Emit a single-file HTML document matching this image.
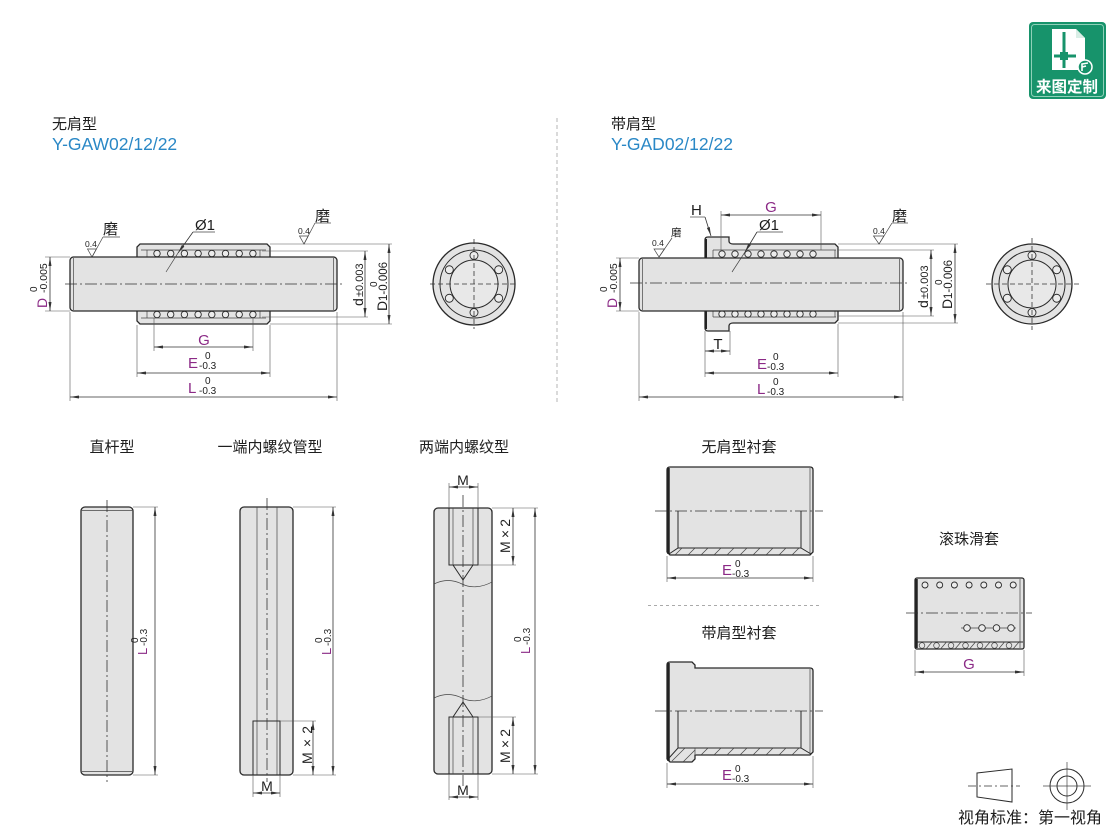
<!DOCTYPE html>
<html><head><meta charset="utf-8">
<style>
html,body{margin:0;padding:0;background:#fff}
svg{display:block}
text{font-family:"Liberation Sans","Noto Sans CJK SC",sans-serif;fill:#1e1e1e}
.p{fill:#e3e3e3;stroke:#2a2a2a;stroke-width:1.3}
.l{stroke:#2a2a2a;stroke-width:1;fill:none}
.t{stroke:#444;stroke-width:.7;fill:none}
.c{stroke:#333;stroke-width:.8;stroke-dasharray:12 3 2 3;fill:none}
.cd{stroke:#333;stroke-width:.8;stroke-dasharray:5 3;fill:none}
.d{stroke:#333;stroke-width:.8;marker-start:url(#a);marker-end:url(#a)}
.e{stroke:#555;stroke-width:.6}
.b{fill:#ececec;stroke:#2a2a2a;stroke-width:.9}
.m{fill:#8b2a86}
.k{fill:#333}
</style></head>
<body>
<svg width="1110" height="826" viewBox="0 0 1110 826" xmlns="http://www.w3.org/2000/svg">
<defs>
<marker id="a" viewBox="0 0 9 3" refX="9" refY="1.5" markerWidth="9" markerHeight="3" markerUnits="userSpaceOnUse" orient="auto-start-reverse"><path d="M0,0L9,1.5L0,3z" fill="#333"/></marker>
<marker id="a1" viewBox="0 0 9 3" refX="9" refY="1.5" markerWidth="9" markerHeight="3" markerUnits="userSpaceOnUse" orient="auto"><path d="M0,0L9,1.5L0,3z" fill="#333"/></marker>
</defs>

<!-- Logo -->
<rect x="1029" y="22" width="77" height="77" rx="4" fill="#17936b"/>
<rect x="1031.5" y="24.5" width="72" height="72" rx="3" fill="none" stroke="#8fd0b8" stroke-width="1"/>
<path d="M1052,29 L1076,29 L1085,38 L1085,70 L1052,70 Z" fill="#fff"/>
<path d="M1076,29 L1076,38 L1085,38" fill="#d9eee6"/>
<rect x="1062.5" y="32" width="3" height="36" fill="#17936b"/>
<rect x="1054" y="54.5" width="22" height="3" fill="#17936b"/>
<rect x="1060" y="52" width="8" height="8" fill="#17936b"/>
<circle cx="1085" cy="67" r="7" fill="#17936b" stroke="#fff" stroke-width="1.5"/>
<path d="M1082,71 L1082,64 L1088,63 M1082,67 L1086,66" stroke="#fff" stroke-width="1.6" fill="none"/>
<text x="1067" y="92" font-size="15.5" font-weight="bold" text-anchor="middle" style="fill:#fff">来图定制</text>

<!-- Titles -->
<text x="52" y="129" font-size="15">无肩型</text>
<text x="52" y="150" font-size="17.5" style="fill:#2a88c6">Y-GAW02/12/22</text>
<text x="611" y="129" font-size="15">带肩型</text>
<text x="611" y="150" font-size="17.5" style="fill:#2a88c6">Y-GAD02/12/22</text>
<line x1="557" y1="118" x2="557" y2="405" stroke="#b5b5b5" stroke-width="1" stroke-dasharray="4 3"/>

<!-- ============ TOP LEFT FIGURE ============ -->
<path class="p" d="M140,244 L267,244 L270,247 L270,321 L267,324 L140,324 L137,321 L137,247 Z"/>
<line class="t" x1="141" y1="250" x2="266" y2="250"/>
<line class="t" x1="141" y1="318" x2="266" y2="318"/>
<line class="t" x1="147" y1="250" x2="147" y2="257"/>
<line class="t" x1="260" y1="250" x2="260" y2="257"/>
<line class="t" x1="147" y1="311" x2="147" y2="318"/>
<line class="t" x1="260" y1="311" x2="260" y2="318"/>
<g class="b">
<circle cx="157" cy="253.5" r="3.2"/><circle cx="170.7" cy="253.5" r="3.2"/><circle cx="184.4" cy="253.5" r="3.2"/><circle cx="198.1" cy="253.5" r="3.2"/><circle cx="211.8" cy="253.5" r="3.2"/><circle cx="225.5" cy="253.5" r="3.2"/><circle cx="239.2" cy="253.5" r="3.2"/><circle cx="252.9" cy="253.5" r="3.2"/>
<circle cx="157" cy="314.5" r="3.2"/><circle cx="170.7" cy="314.5" r="3.2"/><circle cx="184.4" cy="314.5" r="3.2"/><circle cx="198.1" cy="314.5" r="3.2"/><circle cx="211.8" cy="314.5" r="3.2"/><circle cx="225.5" cy="314.5" r="3.2"/><circle cx="239.2" cy="314.5" r="3.2"/><circle cx="252.9" cy="314.5" r="3.2"/>
</g>
<rect class="p" x="70" y="257" width="267" height="54" rx="3.5"/>
<line class="t" x1="73.5" y1="258" x2="73.5" y2="310"/>
<line class="t" x1="333.5" y1="258" x2="333.5" y2="310"/>
<line class="c" x1="65" y1="284" x2="343" y2="284"/>

<!-- dims left fig -->
<line class="e" x1="45" y1="257" x2="70" y2="257"/>
<line class="e" x1="45" y1="311" x2="70" y2="311"/>
<line class="d" x1="50" y1="257" x2="50" y2="311"/>
<g transform="translate(47,308) rotate(-90)"><text class="m" font-size="14">D</text><text x="15" font-size="10.5">-0.005</text><text x="16" y="-10" font-size="10">0</text></g>

<line class="e" x1="262" y1="251" x2="368" y2="251"/>
<line class="e" x1="262" y1="317" x2="368" y2="317"/>
<line class="e" x1="270" y1="244" x2="392" y2="244"/>
<line class="e" x1="270" y1="324" x2="392" y2="324"/>
<line class="d" x1="365" y1="251" x2="365" y2="317"/>
<line class="d" x1="389" y1="244" x2="389" y2="324"/>
<g transform="translate(363,306) rotate(-90)"><text font-size="14">d</text><text x="9" font-size="11">±0.003</text></g>
<g transform="translate(387,311) rotate(-90)"><text font-size="14">D</text><text x="10" font-size="11.5">1-0.006</text><text x="24" y="-10" font-size="10">0</text></g>

<line class="e" x1="154" y1="318" x2="154" y2="351"/>
<line class="e" x1="253" y1="318" x2="253" y2="351"/>
<line class="d" x1="154" y1="347" x2="253" y2="347"/>
<text class="m" x="204" y="345" font-size="15" text-anchor="middle">G</text>
<line class="e" x1="137" y1="325" x2="137" y2="377"/>
<line class="e" x1="270" y1="325" x2="270" y2="377"/>
<line class="d" x1="137" y1="373" x2="270" y2="373"/>
<text class="m" x="188" y="368" font-size="15">E</text><text x="205" y="359" font-size="10">0</text><text x="199" y="369" font-size="10">-0.3</text>
<line class="e" x1="70" y1="312" x2="70" y2="401"/>
<line class="e" x1="337" y1="312" x2="337" y2="401"/>
<line class="d" x1="70" y1="397" x2="337" y2="397"/>
<text class="m" x="188" y="393" font-size="15">L</text><text x="205" y="384" font-size="10">0</text><text x="199" y="394" font-size="10">-0.3</text>

<!-- Ø1 leader -->
<text x="195" y="230" font-size="15">Ø1</text>
<line class="t" x1="193" y1="232" x2="215" y2="232"/>
<line x1="193" y1="232" x2="178" y2="253" stroke="#333" stroke-width=".8" marker-end="url(#a1)"/>
<line class="t" x1="178" y1="253" x2="166" y2="272"/>
<!-- 磨 left -->
<text x="103" y="234" font-size="15">磨</text>
<line class="t" x1="103" y1="237" x2="120" y2="237"/>
<line class="t" x1="103" y1="237" x2="92" y2="257"/>
<path class="t" d="M87.5,249 L96.4,249 L92,257 Z"/>
<text x="85" y="247" font-size="8.5">0.4</text>
<!-- 磨 right -->
<text x="315" y="221" font-size="15">磨</text>
<line class="t" x1="315" y1="223" x2="331" y2="223"/>
<line class="t" x1="315" y1="223" x2="304" y2="244"/>
<path class="t" d="M299.5,236 L308.2,236 L304,244 Z"/>
<text x="298" y="234" font-size="8.5">0.4</text>

<!-- end view left -->
<circle cx="474" cy="284" r="41" class="p"/>
<circle cx="474" cy="284" r="34" class="l"/>
<circle cx="474" cy="284" r="24" fill="#e8e8e8" stroke="#2a2a2a" stroke-width="1"/>
<g class="b">
<circle cx="474" cy="255.5" r="4"/><circle cx="498.7" cy="269.75" r="4"/><circle cx="498.7" cy="298.25" r="4"/><circle cx="474" cy="312.5" r="4"/><circle cx="449.3" cy="298.25" r="4"/><circle cx="449.3" cy="269.75" r="4"/>
</g>
<line class="cd" x1="430" y1="284" x2="518" y2="284"/>
<line class="cd" x1="474" y1="239" x2="474" y2="329"/>

<!-- ============ TOP RIGHT FIGURE ============ -->
<path class="p" d="M708,237 L729,237 L729,241 C729,243 731,244 733,244 L835,244 L838,247 L838,320 L835,323 L733,323 C731,323 729,324 729,326 L729,331 L708,331 Q705,331 705,328 L705,240 Q705,237 708,237 Z"/>
<line x1="706" y1="239" x2="706" y2="329" stroke="#222" stroke-width="2"/>
<line class="t" x1="713" y1="250" x2="836" y2="250"/>
<line class="t" x1="713" y1="317" x2="836" y2="317"/>
<line class="t" x1="713" y1="250" x2="713" y2="258"/>
<line class="t" x1="835" y1="250" x2="835" y2="258"/>
<line class="t" x1="713" y1="311" x2="713" y2="317"/>
<line class="t" x1="835" y1="311" x2="835" y2="317"/>
<g class="b">
<circle cx="722" cy="254" r="3.2"/><circle cx="735" cy="254" r="3.2"/><circle cx="748" cy="254" r="3.2"/><circle cx="761" cy="254" r="3.2"/><circle cx="774" cy="254" r="3.2"/><circle cx="787" cy="254" r="3.2"/><circle cx="800" cy="254" r="3.2"/><circle cx="813" cy="254" r="3.2"/>
<circle cx="722" cy="314" r="3.2"/><circle cx="735" cy="314" r="3.2"/><circle cx="748" cy="314" r="3.2"/><circle cx="761" cy="314" r="3.2"/><circle cx="774" cy="314" r="3.2"/><circle cx="787" cy="314" r="3.2"/><circle cx="800" cy="314" r="3.2"/><circle cx="813" cy="314" r="3.2"/>
</g>
<rect class="p" x="639" y="258" width="264" height="53" rx="3.5"/>
<line class="t" x1="642.5" y1="259" x2="642.5" y2="310"/>
<line class="t" x1="899.5" y1="259" x2="899.5" y2="310"/>
<line class="c" x1="630" y1="283" x2="910" y2="283"/>

<line class="e" x1="616" y1="258" x2="639" y2="258"/>
<line class="e" x1="616" y1="311" x2="639" y2="311"/>
<line class="d" x1="620" y1="258" x2="620" y2="311"/>
<g transform="translate(617,308) rotate(-90)"><text class="m" font-size="14">D</text><text x="15" font-size="10.5">-0.005</text><text x="16" y="-10" font-size="10">0</text></g>

<line class="e" x1="838" y1="250" x2="934" y2="250"/>
<line class="e" x1="838" y1="316" x2="934" y2="316"/>
<line class="e" x1="838" y1="244" x2="958" y2="244"/>
<line class="e" x1="838" y1="323" x2="958" y2="323"/>
<line class="d" x1="931" y1="250" x2="931" y2="316"/>
<line class="d" x1="955" y1="244" x2="955" y2="323"/>
<g transform="translate(928,308) rotate(-90)"><text font-size="14">d</text><text x="9" font-size="11">±0.003</text></g>
<g transform="translate(952,309) rotate(-90)"><text font-size="14">D</text><text x="10" font-size="11.5">1-0.006</text><text x="24" y="-10" font-size="10">0</text></g>

<line class="e" x1="721" y1="211" x2="721" y2="250"/>
<line class="e" x1="821" y1="211" x2="821" y2="250"/>
<line class="d" x1="721" y1="215" x2="821" y2="215"/>
<text class="m" x="771" y="212" font-size="15" text-anchor="middle">G</text>

<text x="691" y="215" font-size="15">H</text>
<line class="t" x1="690" y1="217" x2="705" y2="217"/>
<line x1="705" y1="217" x2="711" y2="236" stroke="#333" stroke-width=".8" marker-end="url(#a1)"/>

<text x="759" y="230" font-size="15">Ø1</text>
<line class="t" x1="757" y1="232" x2="783" y2="232"/>
<line x1="757" y1="232" x2="745" y2="252" stroke="#333" stroke-width=".8" marker-end="url(#a1)"/>
<line class="t" x1="745" y1="252" x2="732" y2="272"/>

<text x="671" y="236" font-size="10.5">磨</text>
<line class="t" x1="659" y1="257" x2="672" y2="238"/>
<path class="t" d="M654,249 L664.5,249 L659,257 Z"/>
<text x="652" y="246" font-size="8.5">0.4</text>

<text x="892" y="221" font-size="15">磨</text>
<line class="t" x1="892" y1="223" x2="908" y2="223"/>
<line class="t" x1="892" y1="223" x2="879" y2="244"/>
<path class="t" d="M873.5,236 L883.9,236 L879,244 Z"/>
<text x="873" y="234" font-size="8.5">0.4</text>

<line class="e" x1="705" y1="331" x2="705" y2="377"/>
<line class="e" x1="730" y1="331" x2="730" y2="355"/>
<line class="d" x1="705" y1="351" x2="730" y2="351"/>
<text x="718" y="349" font-size="15" text-anchor="middle">T</text>
<line class="e" x1="838" y1="324" x2="838" y2="377"/>
<line class="d" x1="705" y1="373" x2="838" y2="373"/>
<text class="m" x="757" y="369" font-size="15">E</text><text x="773" y="360" font-size="10">0</text><text x="767" y="370" font-size="10">-0.3</text>
<line class="e" x1="639" y1="312" x2="639" y2="401"/>
<line class="e" x1="903" y1="312" x2="903" y2="401"/>
<line class="d" x1="639" y1="397" x2="903" y2="397"/>
<text class="m" x="757" y="394" font-size="15">L</text><text x="773" y="385" font-size="10">0</text><text x="767" y="395" font-size="10">-0.3</text>

<!-- end view right -->
<circle cx="1032" cy="284" r="40" class="p"/>
<circle cx="1032" cy="284" r="33" class="l"/>
<circle cx="1032" cy="284" r="24" fill="#e8e8e8" stroke="#2a2a2a" stroke-width="1"/>
<g class="b">
<circle cx="1032" cy="255.5" r="4"/><circle cx="1056.7" cy="269.75" r="4"/><circle cx="1056.7" cy="298.25" r="4"/><circle cx="1032" cy="312.5" r="4"/><circle cx="1007.3" cy="298.25" r="4"/><circle cx="1007.3" cy="269.75" r="4"/>
</g>
<line class="cd" x1="986" y1="284" x2="1080" y2="284"/>
<line class="cd" x1="1032" y1="238" x2="1032" y2="330"/>

<!-- ============ BOTTOM TITLES ============ -->
<text x="112" y="452" font-size="15" text-anchor="middle">直杆型</text>
<text x="270" y="452" font-size="15" text-anchor="middle">一端内螺纹管型</text>
<text x="464" y="452" font-size="15" text-anchor="middle">两端内螺纹型</text>
<text x="739" y="452" font-size="15" text-anchor="middle">无肩型衬套</text>
<text x="739" y="638" font-size="15" text-anchor="middle">带肩型衬套</text>
<text x="969" y="544" font-size="15" text-anchor="middle">滚珠滑套</text>

<!-- straight pin -->
<rect class="p" x="81" y="507" width="52" height="268" rx="4"/>
<line class="t" x1="82" y1="510.5" x2="132" y2="510.5"/>
<line class="t" x1="82" y1="771.5" x2="132" y2="771.5"/>
<line class="c" x1="107" y1="500" x2="107" y2="782"/>
<line class="e" x1="133" y1="507" x2="158" y2="507"/>
<line class="e" x1="133" y1="775" x2="158" y2="775"/>
<line class="d" x1="155" y1="507" x2="155" y2="775"/>
<g transform="translate(147,655) rotate(-90)"><text class="m" font-size="13">L</text><text x="9" font-size="10">-0.3</text><text x="12" y="-9" font-size="10">0</text></g>

<!-- one-end thread pin -->
<rect class="p" x="240" y="507" width="53" height="268" rx="4"/>
<line class="t" x1="257" y1="507" x2="257" y2="775"/>
<line class="t" x1="277" y1="507" x2="277" y2="775"/>
<rect x="253" y="721" width="27" height="54" fill="none" stroke="#2a2a2a" stroke-width="1"/>
<line class="c" x1="267" y1="498" x2="267" y2="782"/>
<line class="e" x1="293" y1="507" x2="336" y2="507"/>
<line class="e" x1="293" y1="775" x2="336" y2="775"/>
<line class="d" x1="333" y1="507" x2="333" y2="775"/>
<g transform="translate(331,655) rotate(-90)"><text class="m" font-size="13">L</text><text x="9" font-size="10">-0.3</text><text x="12" y="-9" font-size="10">0</text></g>
<line class="e" x1="280" y1="721" x2="316" y2="721"/>
<line class="d" x1="313" y1="721" x2="313" y2="775"/>
<g transform="translate(312,764) rotate(-90)"><text font-size="14" textLength="38" lengthAdjust="spacing">M×2</text></g>
<line class="e" x1="253" y1="775" x2="253" y2="797"/>
<line class="e" x1="280" y1="775" x2="280" y2="797"/>
<line class="d" x1="253" y1="793" x2="280" y2="793"/>
<text x="267" y="791" font-size="14" text-anchor="middle">M</text>

<!-- two-end thread -->
<rect class="p" x="434" y="508" width="58" height="266" rx="4"/>
<rect x="449" y="508" width="29" height="57" fill="none" stroke="#2a2a2a" stroke-width="1"/>
<line class="t" x1="453" y1="508" x2="453" y2="565"/>
<line class="t" x1="473" y1="508" x2="473" y2="565"/>
<path class="l" d="M453,565 L463,580 L473,565"/>
<path class="t" d="M434,584 C444,579 454,580 462,584 C470,588 481,588 492,582"/>
<path class="t" d="M434,698 C444,693 454,694 462,698 C470,702 481,702 492,696"/>
<rect x="449" y="717" width="29" height="57" fill="none" stroke="#2a2a2a" stroke-width="1"/>
<line class="t" x1="453" y1="717" x2="453" y2="774"/>
<line class="t" x1="473" y1="717" x2="473" y2="774"/>
<path class="l" d="M453,717 L463,702 L473,717"/>
<line class="c" x1="463" y1="495" x2="463" y2="786"/>
<line class="e" x1="449" y1="483" x2="449" y2="508"/>
<line class="e" x1="478" y1="483" x2="478" y2="508"/>
<line class="d" x1="449" y1="487" x2="478" y2="487"/>
<text x="463" y="485" font-size="14" text-anchor="middle">M</text>
<line class="e" x1="449" y1="774" x2="449" y2="800"/>
<line class="e" x1="478" y1="774" x2="478" y2="800"/>
<line class="d" x1="449" y1="797" x2="478" y2="797"/>
<text x="463" y="795" font-size="14" text-anchor="middle">M</text>
<line class="e" x1="492" y1="508" x2="538" y2="508"/>
<line class="e" x1="492" y1="774" x2="538" y2="774"/>
<line class="e" x1="478" y1="565" x2="516" y2="565"/>
<line class="e" x1="478" y1="717" x2="516" y2="717"/>
<line class="d" x1="513" y1="508" x2="513" y2="565"/>
<line class="d" x1="513" y1="717" x2="513" y2="774"/>
<line class="d" x1="535" y1="508" x2="535" y2="774"/>
<g transform="translate(510,553) rotate(-90)"><text font-size="14" textLength="34" lengthAdjust="spacing">M×2</text></g>
<g transform="translate(510,763) rotate(-90)"><text font-size="14" textLength="34" lengthAdjust="spacing">M×2</text></g>
<g transform="translate(530,654) rotate(-90)"><text class="m" font-size="13">L</text><text x="9" font-size="10">-0.3</text><text x="12" y="-9" font-size="10">0</text></g>

<!-- non-flange bushing -->
<path class="p" d="M670,467 L810,467 Q813,467 813,470 L813,552 L810,555 L670,555 L667,552 L667,470 Q667,467 670,467 Z"/>
<line x1="668.5" y1="468" x2="668.5" y2="554" stroke="#222" stroke-width="2.5"/>
<line class="t" x1="810" y1="468" x2="810" y2="554"/>
<line class="c" x1="655" y1="511" x2="823" y2="511"/>
<line class="l" x1="678" y1="511" x2="678" y2="548"/>
<line class="l" x1="801" y1="511" x2="801" y2="548"/>
<path class="l" d="M669,554 L678,548 L801,548 L811,554"/>
<g class="t">
<line x1="675" y1="555" x2="682" y2="548"/><line x1="688" y1="555" x2="695" y2="548"/><line x1="701" y1="555" x2="708" y2="548"/><line x1="714" y1="555" x2="721" y2="548"/><line x1="727" y1="555" x2="734" y2="548"/><line x1="740" y1="555" x2="747" y2="548"/><line x1="753" y1="555" x2="760" y2="548"/><line x1="766" y1="555" x2="773" y2="548"/><line x1="779" y1="555" x2="786" y2="548"/><line x1="792" y1="555" x2="799" y2="548"/>
</g>
<line class="e" x1="667" y1="556" x2="667" y2="582"/>
<line class="e" x1="813" y1="556" x2="813" y2="582"/>
<line class="d" x1="667" y1="578" x2="813" y2="578"/>
<text class="m" x="722" y="575" font-size="15">E</text><text x="735" y="567" font-size="10">0</text><text x="732" y="577" font-size="10">-0.3</text>

<line x1="648" y1="605.5" x2="822" y2="605.5" stroke="#aaa" stroke-width="1" stroke-dasharray="3 3"/>

<!-- flanged bushing -->
<path class="p" d="M670,662 L692,662 L695,665 L695,668 L810,668 Q813,668 813,671 L813,752 L810,755 L695,755 L695,759 L692,762 L670,762 L667,759 L667,665 Q667,662 670,662 Z"/>
<line x1="668.5" y1="663" x2="668.5" y2="761" stroke="#222" stroke-width="2.5"/>
<line class="t" x1="810" y1="669" x2="810" y2="754"/>
<line class="c" x1="655" y1="711" x2="823" y2="711"/>
<line class="l" x1="678" y1="711" x2="678" y2="748"/>
<line class="l" x1="801" y1="711" x2="801" y2="748"/>
<path class="l" d="M669,758 L678,748 L801,748 L811,754"/>
<line class="t" x1="695" y1="754" x2="695" y2="748"/>
<g class="t">
<line x1="672" y1="761" x2="685" y2="748"/><line x1="683" y1="762" x2="695" y2="750"/><line x1="701" y1="755" x2="708" y2="748"/><line x1="714" y1="755" x2="721" y2="748"/><line x1="727" y1="755" x2="734" y2="748"/><line x1="740" y1="755" x2="747" y2="748"/><line x1="753" y1="755" x2="760" y2="748"/><line x1="766" y1="755" x2="773" y2="748"/><line x1="779" y1="755" x2="786" y2="748"/><line x1="792" y1="755" x2="799" y2="748"/>
</g>
<line class="e" x1="667" y1="763" x2="667" y2="788"/>
<line class="e" x1="813" y1="756" x2="813" y2="788"/>
<line class="d" x1="667" y1="784" x2="813" y2="784"/>
<text class="m" x="722" y="780" font-size="15">E</text><text x="735" y="772" font-size="10">0</text><text x="732" y="782" font-size="10">-0.3</text>

<!-- ball sleeve -->
<rect class="p" x="915" y="578" width="109" height="71" rx="2"/>
<line x1="916.5" y1="579" x2="916.5" y2="648" stroke="#222" stroke-width="2.5"/>
<line class="t" x1="1020" y1="579" x2="1020" y2="648"/>
<g class="b">
<circle cx="925" cy="585" r="3"/><circle cx="939.7" cy="585" r="3"/><circle cx="954.4" cy="585" r="3"/><circle cx="969.1" cy="585" r="3"/><circle cx="983.8" cy="585" r="3"/><circle cx="998.5" cy="585" r="3"/><circle cx="1013.2" cy="585" r="3"/>
</g>
<line class="c" x1="906" y1="613" x2="1032" y2="613"/>
<line class="t" x1="961" y1="628" x2="1016" y2="628"/>
<g class="b">
<circle cx="967" cy="628" r="3.3"/><circle cx="982" cy="628" r="3.3"/><circle cx="996.5" cy="628" r="3.3"/><circle cx="1011" cy="628" r="3.3"/>
</g>
<line class="l" x1="917" y1="642" x2="1023" y2="642"/>
<g class="t">
<circle cx="922" cy="645.5" r="2.8"/><circle cx="936.5" cy="645.5" r="2.8"/><circle cx="951" cy="645.5" r="2.8"/><circle cx="965.5" cy="645.5" r="2.8"/><circle cx="980" cy="645.5" r="2.8"/><circle cx="994.5" cy="645.5" r="2.8"/><circle cx="1009" cy="645.5" r="2.8"/>
<line x1="926" y1="649" x2="932" y2="642"/><line x1="940.5" y1="649" x2="946.5" y2="642"/><line x1="955" y1="649" x2="961" y2="642"/><line x1="969.5" y1="649" x2="975.5" y2="642"/><line x1="984" y1="649" x2="990" y2="642"/><line x1="998.5" y1="649" x2="1004.5" y2="642"/><line x1="1013" y1="649" x2="1019" y2="642"/>
</g>
<line class="e" x1="915" y1="650" x2="915" y2="676"/>
<line class="e" x1="1024" y1="650" x2="1024" y2="676"/>
<line class="d" x1="915" y1="672" x2="1024" y2="672"/>
<text class="m" x="969" y="669" font-size="15" text-anchor="middle">G</text>

<!-- view symbol -->
<path class="l" d="M977,773 L1012,769 L1012,802 L977,797 Z"/>
<line class="c" x1="968" y1="786" x2="1020" y2="786" style="stroke-dasharray:8 3 2 3"/>
<circle class="l" cx="1067" cy="786" r="17"/>
<circle class="l" cx="1067" cy="786" r="10"/>
<line class="t" x1="1043" y1="786" x2="1091" y2="786"/>
<line class="t" x1="1067" y1="762" x2="1067" y2="810"/>
<text x="958" y="823" font-size="16">视角标准：第一视角</text>
</svg>
</body></html>
